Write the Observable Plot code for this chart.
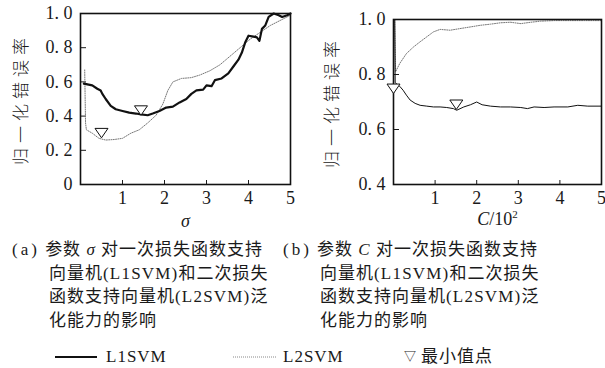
<!DOCTYPE html>
<html><head><meta charset="utf-8">
<script src="https://cdn.jsdelivr.net/npm/d3@7"></script>
<script src="https://cdn.jsdelivr.net/npm/@observablehq/plot@0.6"></script>
<style>
html,body{margin:0;padding:0;background:#fff;overflow:hidden;}
#wrap{position:relative;width:605px;height:368px;overflow:hidden;font-family:"Liberation Serif","Noto Sans CJK SC",serif;color:#1a1a1a;}
.pl{position:absolute;top:0;}
.cap{position:absolute;font-size:17px;line-height:23.5px;white-space:nowrap;letter-spacing:1px;}
.cap .ind{padding-left:37px;}
.cap .lat{letter-spacing:1.2px;}
.cap .lab{letter-spacing:3px;}
.leg{position:absolute;top:346px;left:0;width:605px;height:22px;font-size:17px;line-height:22px;}
.leg span{position:absolute;top:0;white-space:nowrap;}
.leg svg{position:absolute;top:0;}
</style>
</head><body>
<div id="wrap">
  <div id="pa" class="pl" style="left:0"></div>
  <div id="pb" class="pl" style="left:300px"></div>
  <div class="cap" style="left:12px;top:238px">
    <div><span class="lab">(a)</span> 参数 <i>σ</i> 对一次损失函数支持</div>
    <div class="ind">向量机<span class="lat">(L1SVM)</span>和二次损失</div>
    <div class="ind">函数支持向量机<span class="lat">(L2SVM)</span>泛</div>
    <div class="ind">化能力的影响</div>
  </div>
  <div class="cap" style="left:283px;top:238px">
    <div><span class="lab">(b)</span> 参数 <i>C</i> 对一次损失函数支持</div>
    <div class="ind">向量机<span class="lat">(L1SVM)</span>和二次损失</div>
    <div class="ind">函数支持向量机<span class="lat">(L2SVM)</span>泛</div>
    <div class="ind">化能力的影响</div>
  </div>
  <div class="leg">
    <svg width="605" height="22"><line x1="55" x2="97" y1="11" y2="11" stroke="#111" stroke-width="2"/><line x1="233" x2="277" y1="11" y2="11" stroke="#888" stroke-width="1" stroke-dasharray="1,1"/></svg>
    <span style="left:106px;letter-spacing:1px">L1SVM</span>
    <span style="left:283px;letter-spacing:1px">L2SVM</span>
    <span style="left:404px;font-size:12px">▽</span>
    <span style="left:421px;letter-spacing:1px">最小值点</span>
  </div>
</div>
<script>
// ---- data ----
const sigmaL1X = [0.08,0.28,0.40,0.48,0.52,0.60,0.72,0.84,1.00,1.16,1.32,1.44,1.60,1.72,1.88,2.04,2.20,2.36,2.52,2.64,2.76,2.92,3.00,3.12,3.20,3.36,3.52,3.64,3.76,3.84,3.92,4.00,4.12,4.20,4.26,4.32,4.40,4.48,4.60,4.72,4.80,4.92,5.00];
const sigmaL1Y = [0.59,0.58,0.56,0.55,0.53,0.50,0.46,0.44,0.43,0.42,0.415,0.41,0.405,0.415,0.43,0.45,0.455,0.48,0.50,0.53,0.55,0.555,0.58,0.575,0.61,0.62,0.65,0.69,0.73,0.77,0.83,0.87,0.865,0.86,0.84,0.91,0.93,0.98,1.0,0.99,0.98,0.99,1.0];
const sigmaL2X = [0.10,0.12,0.14,0.28,0.44,0.60,0.80,1.00,1.20,1.40,1.60,1.80,1.96,2.08,2.20,2.40,2.64,2.84,3.08,3.32,3.56,3.80,4.04,4.28,4.52,4.76,5.00];
const sigmaL2Y = [0.67,0.36,0.32,0.30,0.27,0.26,0.263,0.27,0.30,0.32,0.36,0.405,0.47,0.55,0.60,0.62,0.625,0.64,0.665,0.70,0.75,0.80,0.85,0.89,0.93,0.96,0.99];
const sigmaMinX = [1.44, 0.50];
const sigmaMinY = [0.405, 0.273];

const cL1X = [0.03,0.04,0.15,0.23,0.31,0.40,0.52,0.64,0.80,0.96,1.12,1.28,1.44,1.52,1.69,1.85,2.00,2.13,2.33,2.57,2.81,3.06,3.22,3.38,3.62,3.86,4.19,4.43,4.67,5.00];
const cL1Y = [1.0,0.77,0.757,0.743,0.725,0.707,0.695,0.688,0.685,0.682,0.682,0.68,0.676,0.67,0.682,0.69,0.70,0.69,0.685,0.682,0.682,0.68,0.676,0.682,0.68,0.682,0.682,0.688,0.685,0.685];
const cL2X = [0.03,0.05,0.15,0.31,0.48,0.64,0.80,0.96,1.12,1.36,1.60,1.85,2.09,2.33,2.57,2.81,3.06,3.30,3.54,3.86,4.19,4.60,5.00];
const cL2Y = [1.0,0.81,0.84,0.876,0.90,0.919,0.937,0.955,0.964,0.961,0.967,0.973,0.979,0.983,0.988,0.99,0.985,0.99,0.994,0.996,0.996,0.996,0.996];
const cMinX = [0.0, 1.51];
const cMinY = [0.731, 0.673];

const xTicks = [1,2,3,4,5];
const xLabels = ["1","2","3","4","5"];
const yTicksA = [0,0.2,0.4,0.6,0.8,1.0];
const yLabelsA = ["0","0. 2","0. 4","0. 6","0. 8","1. 0"];
const yTicksB = [0.4,0.6,0.8,1.0];
const yLabelsB = ["0. 4","0. 6","0. 8","1. 0"];
const yTitle = "归一化错误率";
const xTitleA = "σ";
const xTitleB = ["C","/10","2"];

// ---- helpers ----
const toRows = (xs, ys) => xs.map((x, i) => ({x, y: ys[i]}));
const triDown = {
  draw(ctx, size) {
    const r = Math.sqrt(size / Math.PI);
    ctx.moveTo(0, 0); ctx.lineTo(-r, -r * 1.45); ctx.lineTo(r, -r * 1.45); ctx.closePath();
  }
};
const style = {fontFamily: "'Liberation Serif', serif", fontSize: "18px", color: "#1a1a1a", background: "transparent", overflow: "visible"};

function panel({width, marginLeft, marginRight, marginTop, yDomain, yTicks, yLabels, l1, l2, mins, l1Width, xLabel, yOffset, xPad, xLabelOffset}) {
  return Plot.plot({
    width, height: 230, marginLeft, marginRight, marginTop, marginBottom: 46,
    x: {domain: [0, 5]},
    y: {domain: yDomain},
    style,
    marks: [
      Plot.axisX({ticks: xTicks, tickSize: -4, tickPadding: xPad, tickFormat: (d) => xLabels[xTicks.indexOf(d)], label: xLabel, labelAnchor: "center", labelOffset: xLabelOffset, labelArrow: "none", fontSize: 18}),
      Plot.axisY({ticks: yTicks, tickSize: -6, tickPadding: 14, tickFormat: (d) => yLabels[yTicks.indexOf(d)], label: yTitle, labelAnchor: "center", labelOffset: yOffset, labelArrow: "none", fontSize: 18, letterSpacing: 1}),
      Plot.line(l2, {x: "x", y: "y", stroke: "#777", strokeWidth: 1, strokeDasharray: "1,1.3", curve: "linear"}),
      Plot.line(l1, {x: "x", y: "y", stroke: "#111", strokeWidth: l1Width, curve: "linear"}),
      Plot.frame({stroke: "#111", strokeWidth: 1.6}),
      Plot.dot(mins, {x: "x", y: "y", symbol: triDown, r: 6.5, fill: "white", stroke: "#111", strokeWidth: 1})
    ]
  });
}

const a = panel({width: 300, marginLeft: 80, marginRight: 10, marginTop: 13, yDomain: [0, 1], yTicks: yTicksA, yLabels: yLabelsA,
  l1: toRows(sigmaL1X, sigmaL1Y), l2: toRows(sigmaL2X, sigmaL2Y), mins: toRows(sigmaMinX, sigmaMinY), l1Width: 2.2, xLabel: xTitleA, yOffset: 66, xPad: 11, xLabelOffset: 42});
const b = panel({width: 305, marginLeft: 93, marginRight: 4, marginTop: 19, yDomain: [0.4, 1], yTicks: yTicksB, yLabels: yLabelsB,
  l1: toRows(cL1X, cL1Y), l2: toRows(cL2X, cL2Y), mins: toRows(cMinX, cMinY), l1Width: 1, xLabel: xTitleB.join(""), yOffset: 68, xPad: 11, xLabelOffset: 40});
document.getElementById("pa").appendChild(a);
document.getElementById("pb").appendChild(b);

// style axis-label text: Chinese y titles letter-spaced, sigma italic, C/10^2 with superscript
function fixLabels(svg, isB) {
  svg.querySelectorAll("text").forEach(t => {
    const s = t.textContent;
    if (s === yTitle) { t.setAttribute("font-family", "'Noto Sans CJK SC', sans-serif"); t.setAttribute("letter-spacing", "5"); t.setAttribute("font-size", "17"); t.setAttribute("font-weight", "300"); }
    if (s === xTitleA) { t.setAttribute("font-style", "italic"); }
    if (isB && s === xTitleB.join("")) {
      const tspan = t.querySelector("tspan") || t;
      tspan.textContent = "";
      const ns = "http://www.w3.org/2000/svg";
      const t1 = document.createElementNS(ns, "tspan"); t1.textContent = xTitleB[0]; t1.setAttribute("font-style", "italic");
      const t2 = document.createElementNS(ns, "tspan"); t2.textContent = xTitleB[1];
      const t3 = document.createElementNS(ns, "tspan"); t3.textContent = xTitleB[2]; t3.setAttribute("font-size", "11"); t3.setAttribute("dy", "-7");
      tspan.appendChild(t1); tspan.appendChild(t2); tspan.appendChild(t3);
    }
  });
}
fixLabels(a, false);
fixLabels(b, true);
</script>
</body></html>
